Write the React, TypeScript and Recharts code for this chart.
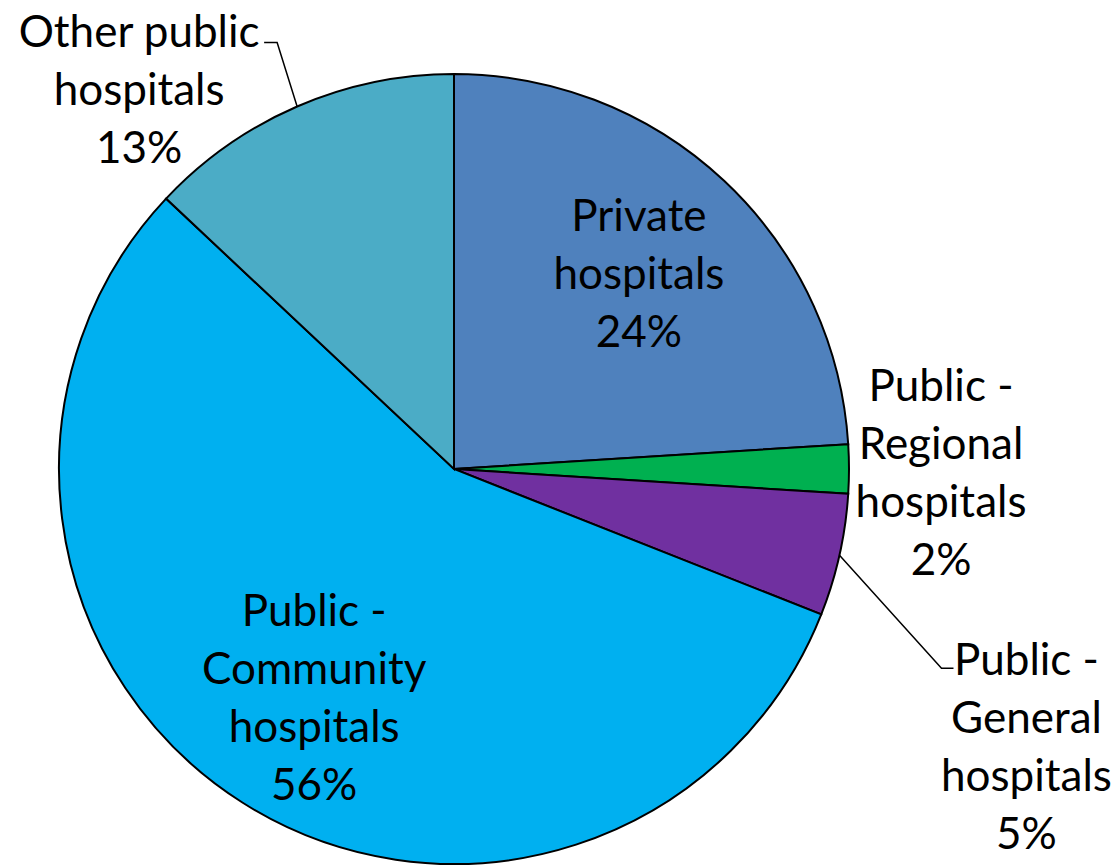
import { Pie, PieChart, Cell } from 'recharts';

const categories = ["Private hospitals", "Public - Regional hospitals", "Public - General hospitals", "Public - Community hospitals", "Other public hospitals"];
const shares = [24, 2, 5, 56, 13];
const colors = ["#4F81BD", "#00B050", "#7030A0", "#00B0F0", "#4BACC6"];
const labelLines = [
  ["Private", "hospitals", "24%"],
  ["Public -", "Regional", "hospitals", "2%"],
  ["Public -", "General", "hospitals", "5%"],
  ["Public -", "Community", "hospitals", "56%"],
  ["Other public", "hospitals", "13%"],
];

const data = categories.map((name, i) => ({ name, value: shares[i] }));

// where each label sits: radius fraction at the slice's mid angle, then a nudge
const layout = [
  { r: 0.684, dx: 0, dy: 0 },
  { r: 1.233, dx: 0, dy: 2 },
  { r: 1, dx: 187, dy: 190, elbow: { dx: -85, dy: -77 }, tail: 12 },
  { r: 0.684, dx: 5, dy: -1 },
  { r: 1, dx: -158, dy: -18, elbow: { dx: 138, dy: -46 }, tail: -13 },
];

const RADIAN = Math.PI / 180;
const LINE_H = 58;

const renderLabel = (props: any) => {
  const { cx, cy, midAngle, outerRadius, index } = props;
  const l = layout[index];
  const cos = Math.cos(-midAngle * RADIAN);
  const sin = Math.sin(-midAngle * RADIAN);
  const tx = cx + outerRadius * l.r * cos + l.dx;
  const ty = cy + outerRadius * l.r * sin + l.dy;
  const lines = labelLines[index];
  const top = ty - ((lines.length - 1) * LINE_H) / 2;
  let leader = null;
  if (l.elbow) {
    const ex = cx + outerRadius * cos;
    const ey = cy + outerRadius * sin;
    const bx = tx + l.elbow.dx;
    const by = ty + l.elbow.dy;
    leader = (
      <polyline points={`${ex},${ey} ${bx},${by} ${bx + l.tail},${by}`} fill="none" stroke="black" strokeWidth={1.5} />
    );
  }
  return (
    <g>
      {leader}
      <text textAnchor="middle" fontFamily="Lato, sans-serif" fontSize={44} fill="black">
        {lines.map((s, i) => (
          <tspan key={i} x={tx} y={top + i * LINE_H} dominantBaseline="central">{s}</tspan>
        ))}
      </text>
    </g>
  );
};

const App = () => {
  return (
    <div style={{ position: 'absolute', left: 0, top: 0, background: 'white' }}>
      <PieChart width={1117} height={866}>
        <Pie
          data={data}
          dataKey="value"
          nameKey="name"
          cx={449}
          cy={464}
          outerRadius={395}
          startAngle={90}
          endAngle={-270}
          stroke="black"
          strokeWidth={2}
          label={renderLabel}
          labelLine={false}
          isAnimationActive={false}
        >
          {data.map((d, i) => (
            <Cell key={d.name} fill={colors[i]} />
          ))}
        </Pie>
      </PieChart>
    </div>
  );
};

export default App;
